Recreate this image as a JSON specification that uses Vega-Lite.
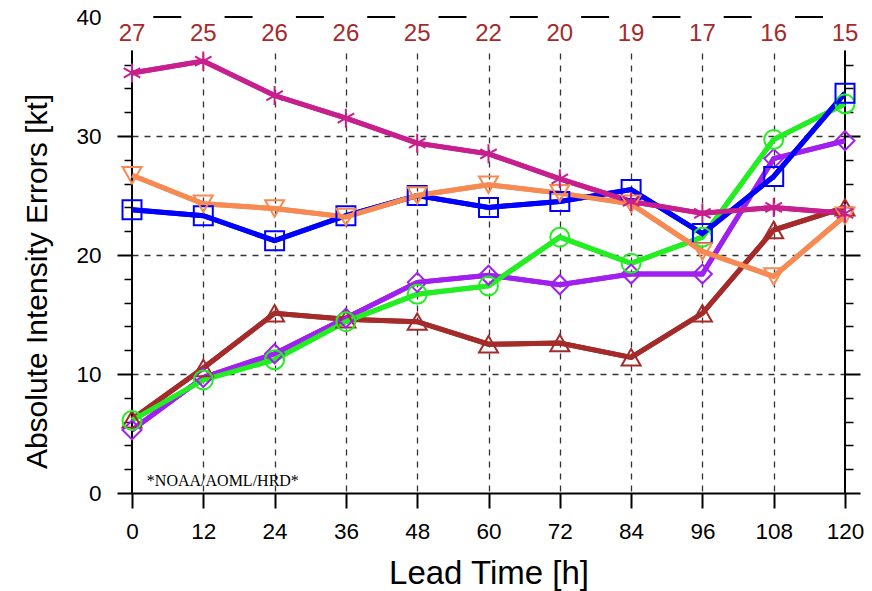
{
  "$schema": "https://vega.github.io/schema/vega-lite/v6.json",
  "autosize": "none",
  "width": 713,
  "height": 476,
  "padding": {"left": 132, "top": 17, "right": 27, "bottom": 98},
  "background": "white",
  "config": {"view": {"stroke": null}, "font": "Liberation Sans"},
  "datasets": {
    "errs": [
      {"series": "brown", "lead": 0, "error": 6.2}, {"series": "brown", "lead": 12, "error": 10.5}, {"series": "brown", "lead": 24, "error": 15.1}, {"series": "brown", "lead": 36, "error": 14.6}, {"series": "brown", "lead": 48, "error": 14.4}, {"series": "brown", "lead": 60, "error": 12.5}, {"series": "brown", "lead": 72, "error": 12.6}, {"series": "brown", "lead": 84, "error": 11.4}, {"series": "brown", "lead": 96, "error": 15.1}, {"series": "brown", "lead": 108, "error": 22.1}, {"series": "brown", "lead": 120, "error": 24.0},
      {"series": "purple", "lead": 0, "error": 5.3}, {"series": "purple", "lead": 12, "error": 9.7}, {"series": "purple", "lead": 24, "error": 11.7}, {"series": "purple", "lead": 36, "error": 14.7}, {"series": "purple", "lead": 48, "error": 17.7}, {"series": "purple", "lead": 60, "error": 18.3}, {"series": "purple", "lead": 72, "error": 17.5}, {"series": "purple", "lead": 84, "error": 18.4}, {"series": "purple", "lead": 96, "error": 18.4}, {"series": "purple", "lead": 108, "error": 28.1}, {"series": "purple", "lead": 120, "error": 29.6},
      {"series": "green", "lead": 0, "error": 6.1}, {"series": "green", "lead": 12, "error": 9.5}, {"series": "green", "lead": 24, "error": 11.2}, {"series": "green", "lead": 36, "error": 14.4}, {"series": "green", "lead": 48, "error": 16.7}, {"series": "green", "lead": 60, "error": 17.4}, {"series": "green", "lead": 72, "error": 21.5}, {"series": "green", "lead": 84, "error": 19.3}, {"series": "green", "lead": 96, "error": 21.5}, {"series": "green", "lead": 108, "error": 29.7}, {"series": "green", "lead": 120, "error": 32.7},
      {"series": "blue", "lead": 0, "error": 23.8}, {"series": "blue", "lead": 12, "error": 23.3}, {"series": "blue", "lead": 24, "error": 21.2}, {"series": "blue", "lead": 36, "error": 23.3}, {"series": "blue", "lead": 48, "error": 25.0}, {"series": "blue", "lead": 60, "error": 24.0}, {"series": "blue", "lead": 72, "error": 24.5}, {"series": "blue", "lead": 84, "error": 25.5}, {"series": "blue", "lead": 96, "error": 21.8}, {"series": "blue", "lead": 108, "error": 26.6}, {"series": "blue", "lead": 120, "error": 33.6},
      {"series": "orange", "lead": 0, "error": 26.7}, {"series": "orange", "lead": 12, "error": 24.3}, {"series": "orange", "lead": 24, "error": 23.9}, {"series": "orange", "lead": 36, "error": 23.2}, {"series": "orange", "lead": 48, "error": 25.0}, {"series": "orange", "lead": 60, "error": 25.9}, {"series": "orange", "lead": 72, "error": 25.2}, {"series": "orange", "lead": 84, "error": 24.3}, {"series": "orange", "lead": 96, "error": 20.3}, {"series": "orange", "lead": 108, "error": 18.2}, {"series": "orange", "lead": 120, "error": 23.3},
      {"series": "magenta", "lead": 0, "error": 35.3}, {"series": "magenta", "lead": 12, "error": 36.3}, {"series": "magenta", "lead": 24, "error": 33.4}, {"series": "magenta", "lead": 36, "error": 31.5}, {"series": "magenta", "lead": 48, "error": 29.4}, {"series": "magenta", "lead": 60, "error": 28.5}, {"series": "magenta", "lead": 72, "error": 26.4}, {"series": "magenta", "lead": 84, "error": 24.5}, {"series": "magenta", "lead": 96, "error": 23.5}, {"series": "magenta", "lead": 108, "error": 24.0}, {"series": "magenta", "lead": 120, "error": 23.5}
    ],
    "counts": [
      {"lead": 0, "n": 27}, {"lead": 12, "n": 25}, {"lead": 24, "n": 26}, {"lead": 36, "n": 26}, {"lead": 48, "n": 25}, {"lead": 60, "n": 22}, {"lead": 72, "n": 20}, {"lead": 84, "n": 19}, {"lead": 96, "n": 17}, {"lead": 108, "n": 16}, {"lead": 120, "n": 15}
    ],
    "one": [{}]
  },
  "resolve": {"axis": {"x": "independent", "y": "independent"}},
  "layer": [
    {
      "data": {"name": "errs"},
      "mark": {"type": "line", "strokeWidth": 5},
      "encoding": {
        "x": {"field": "lead", "type": "quantitative", "scale": {"domain": [0, 120], "nice": false},
          "axis": {"orient": "bottom", "values": [0, 12, 24, 36, 48, 60, 72, 84, 96, 108, 120], "title": "Lead Time [h]", "titleFontSize": 33, "titleFontWeight": "normal", "titleColor": "black", "titleY": 80, "titleBaseline": "middle", "titleFont": "Liberation Sans", "labelFontSize": 22.5, "labelColor": "black", "labelPadding": 12, "labelFlush": false, "labelOverlap": false, "tickSize": 15, "tickWidth": 2, "tickColor": "black", "domainColor": "black", "domainWidth": 2, "grid": true, "gridColor": "#333333", "gridDash": [6, 6], "gridWidth": 1.3, "gridOpacity": {"condition": {"test": "datum.value == 0 || datum.value == 120", "value": 0}, "value": 1}}},
        "y": {"field": "error", "type": "quantitative", "scale": {"domain": [0, 40], "nice": false},
          "axis": {"orient": "left", "values": [0, 10, 20, 30, 40], "title": "Absolute Intensity Errors [kt]", "titleFontSize": 30, "titleFontWeight": "normal", "titleColor": "black", "titleX": -95, "titleY": 264, "titleAngle": -90, "titleBaseline": "middle", "titleAlign": "center", "labelFontSize": 22.5, "labelColor": "black", "labelPadding": 16, "labelFlush": false, "labelOverlap": false, "tickSize": 15, "tickWidth": 2, "tickColor": "black", "tickOpacity": {"condition": {"test": "datum.value == 40", "value": 0}, "value": 1}, "domain": false, "grid": true, "gridColor": "#333333", "gridDash": [6, 6], "gridWidth": 1.3, "gridOpacity": {"condition": {"test": "datum.value == 40 || datum.value == 0", "value": 0}, "value": 1}}},
        "color": {"field": "series", "type": "nominal", "legend": null,
          "scale": {"domain": ["brown", "purple", "green", "blue", "orange", "magenta"], "range": ["#a52a2a", "#a020f0", "#22ee22", "#0000ff", "#f68a52", "#c71f8e"]}}
      }
    },
    {
      "data": {"name": "one"},
      "mark": {"type": "rule", "color": "black", "strokeWidth": 2},
      "encoding": {
        "x": {"datum": 0, "type": "quantitative", "axis": null},
        "y": {"datum": 0, "type": "quantitative", "axis": {"orient": "left", "values": [2, 4, 6, 8, 12, 14, 16, 18, 22, 24, 26, 28, 32, 34, 36], "labels": false, "title": null, "tickSize": 8, "tickWidth": 1.5, "tickColor": "black", "domain": false, "grid": false}},
        "y2": {"datum": 37.2}
      }
    },
    {
      "data": {"name": "one"},
      "mark": {"type": "rule", "color": "black", "strokeWidth": 2},
      "encoding": {
        "x": {"datum": 120, "type": "quantitative", "axis": null},
        "y": {"datum": 0, "type": "quantitative", "axis": {"orient": "right", "values": [2, 4, 6, 8, 12, 14, 16, 18, 22, 24, 26, 28, 32, 34, 36], "labels": false, "title": null, "tickSize": 8, "tickWidth": 1.5, "tickColor": "black", "domain": false, "grid": false}},
        "y2": {"datum": 37.2}
      }
    },
    {
      "data": {"name": "errs"},
      "mark": {"type": "line", "strokeWidth": 5},
      "encoding": {
        "x": {"field": "lead", "type": "quantitative", "axis": null},
        "y": {"field": "error", "type": "quantitative", "axis": null},
        "color": {"field": "series", "type": "nominal", "legend": null}
      }
    },
    {
      "data": {"name": "errs"},
      "mark": {"type": "point", "filled": false, "strokeWidth": 2, "size": 360, "opacity": 1},
      "encoding": {
        "x": {"field": "lead", "type": "quantitative", "axis": null},
        "y": {"field": "error", "type": "quantitative", "axis": {"orient": "right", "values": [0, 10, 20, 30], "labels": false, "title": null, "tickSize": 15, "tickWidth": 2, "tickColor": "black", "domain": false, "grid": false}},
        "color": {"field": "series", "type": "nominal", "legend": null},
        "shape": {"field": "series", "type": "nominal", "legend": null,
          "scale": {"domain": ["brown", "purple", "green", "blue", "orange", "magenta"], "range": ["triangle-up", "diamond", "circle", "square", "triangle-down", "M0,-1L0,1M-0.87,-0.5L0.87,0.5M-0.87,0.5L0.87,-0.5"]}}
      }
    },
    {
      "data": {"name": "one"},
      "mark": {"type": "rect", "color": "white", "xOffset": -4, "x2Offset": 4},
      "encoding": {
        "x": {"datum": 0, "type": "quantitative", "axis": null},
        "x2": {"datum": 120},
        "y": {"datum": 37.2, "type": "quantitative", "axis": null},
        "y2": {"datum": 40}
      }
    },
    {
      "data": {"name": "one"},
      "mark": {"type": "rule", "color": "black", "strokeWidth": 2, "strokeDash": [28, 43.3], "strokeDashOffset": 50},
      "encoding": {
        "x": {"datum": 0, "type": "quantitative", "axis": null},
        "x2": {"datum": 120},
        "y": {"datum": 40, "type": "quantitative", "axis": null}
      }
    },
    {
      "data": {"name": "counts"},
      "mark": {"type": "text", "color": "#a52a2a", "fontSize": 24, "align": "center", "baseline": "middle", "font": "Liberation Sans"},
      "encoding": {
        "x": {"field": "lead", "type": "quantitative", "axis": null},
        "y": {"datum": 38.6, "type": "quantitative", "axis": null},
        "text": {"field": "n", "type": "quantitative"}
      }
    },
    {
      "data": {"name": "one"},
      "mark": {"type": "text", "color": "black", "fontSize": 16, "align": "left", "baseline": "alphabetic", "font": "Liberation Serif"},
      "encoding": {
        "x": {"datum": 2.5, "type": "quantitative", "axis": null},
        "y": {"datum": 0.56, "type": "quantitative", "axis": null},
        "text": {"value": "*NOAA/AOML/HRD*"}
      }
    }
  ]
}
